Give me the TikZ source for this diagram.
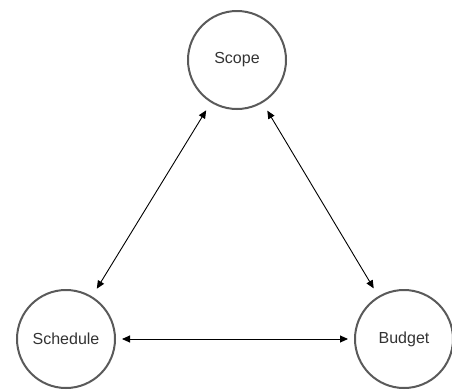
\documentclass[tikz,border=0pt]{standalone}
\usepackage{fontspec}
\setmainfont{Liberation Sans}
\usetikzlibrary{arrows.meta}
\definecolor{ring}{HTML}{5A5A5A}
\definecolor{txt}{HTML}{333333}
\begin{document}
\begin{tikzpicture}[x=1pt,y=-1pt,
  topic/.style={circle,draw=ring,line width=2pt,minimum size=98pt,inner sep=0pt,
    font=\fontsize{16}{18}\selectfont,text=txt},
  link/.style={{Triangle[length=8pt,width=7pt]}-{Triangle[length=8pt,width=7pt]},line width=0.9pt,black,shorten <=9pt,shorten >=9pt}]
\useasboundingbox (0,0) rectangle (452,389);
\node[topic] (scope) at (237,60) {Scope};
\node[topic] (sched) at (66,339) {Schedule};
\node[topic] (budget) at (404,339) {Budget};
\draw[link] (scope) -- (sched);
\draw[link] (scope) -- (budget);
\draw[link,shorten <=6pt,shorten >=6pt] (sched) -- (budget);
\end{tikzpicture}
\end{document}
